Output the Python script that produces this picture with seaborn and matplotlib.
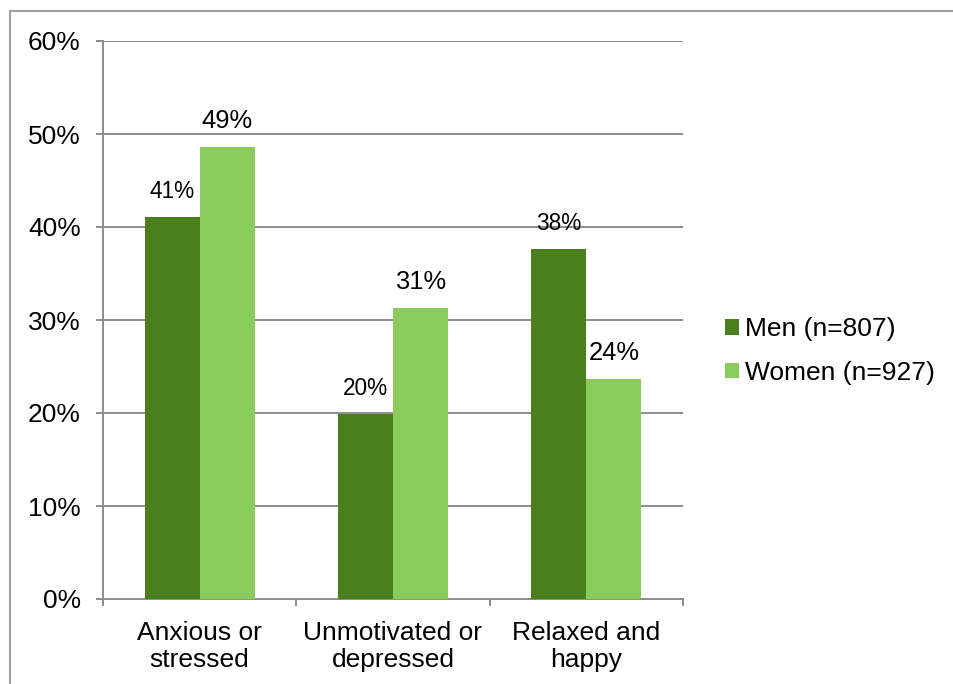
import matplotlib
matplotlib.use("Agg")
import matplotlib.pyplot as plt
import seaborn as sns
import pandas as pd
from matplotlib.patches import Rectangle
from matplotlib.ticker import FuncFormatter

categories = ["Anxious or\nstressed", "Unmotivated or\ndepressed", "Relaxed and\nhappy"]
men = [41.1, 19.9, 37.6]
women = [48.6, 31.3, 23.7]
series = ["Men (n=807)", "Women (n=927)"]
colors = ["#4a7f1e", "#8acc5b"]
yticks = [0, 10, 20, 30, 40, 50, 60]

df = pd.DataFrame({
    "category": categories * 2,
    "value": men + women,
    "series": [series[0]] * 3 + [series[1]] * 3,
})

sns.set_style("white")
plt.rcParams["font.family"] = ["Liberation Sans", "DejaVu Sans"]
plt.rcParams["text.color"] = "black"
plt.rcParams["xtick.labelcolor"] = "black"
plt.rcParams["ytick.labelcolor"] = "black"

fig = plt.figure(figsize=(9.54, 6.84), dpi=100)
ax = fig.add_axes([103/954, 1-599/684, (683-103)/954, (599-41)/684])

grey = "#8c8c8c"
sns.barplot(data=df, x="category", y="value", hue="series", palette=colors,
            width=0.57, gap=0, saturation=1, ax=ax, legend=True, zorder=3,
            linewidth=0, edgecolor="none")

ax.set_ylim(0, 60)
ax.set_xlim(-0.5, 2.5)
ax.set_yticks(yticks)
ax.yaxis.set_major_formatter(FuncFormatter(lambda v, p: f"{v:.0f}%"))
ax.grid(axis="y", color=grey, linewidth=1.4, zorder=0)
ax.set_axisbelow(True)
ax.set_xlabel("")
ax.set_ylabel("")

for s in ["top", "right"]:
    ax.spines[s].set_visible(False)
for s in ["left", "bottom"]:
    ax.spines[s].set_color(grey)
    ax.spines[s].set_linewidth(1.4)

ax.tick_params(axis="y", which="major", length=5, width=1.4, color=grey,
               labelsize=19, pad=11, direction="out", left=True,
               labelcolor="black")
ax.tick_params(axis="x", which="major", length=0, labelsize=19, pad=16,
               labelcolor="black")
ax.set_xticks([-0.5, 0.5, 1.5, 2.5], minor=True)
ax.tick_params(axis="x", which="minor", length=5, width=1.4, color=grey,
               direction="out", bottom=True)
for lab in ax.get_xticklabels():
    lab.set_linespacing(1.15)

# value labels
containers = ax.containers
for cont, vals, fs in zip(containers, [men, women], [16.3, 18.4]):
    ax.bar_label(cont, labels=[f"{v:.0f}%" for v in vals], padding=10,
                 fontsize=fs, color="black")

leg = ax.legend(loc="center left", bbox_to_anchor=(725/954, 1-351/684),
                bbox_transform=fig.transFigure, frameon=False, fontsize=19,
                handlelength=0.54, handleheight=0.54, handletextpad=0.2,
                labelspacing=0.74, borderpad=0, borderaxespad=0)
for t in leg.get_texts():
    t.set_color("black")

fig.patches.append(Rectangle((10/954, -0.5), 2, 0.5 + 1 - 11/684,
                             transform=fig.transFigure, fill=False,
                             edgecolor="#a0a0a0", linewidth=1.5))

fig.savefig("out.png", dpi=100)
